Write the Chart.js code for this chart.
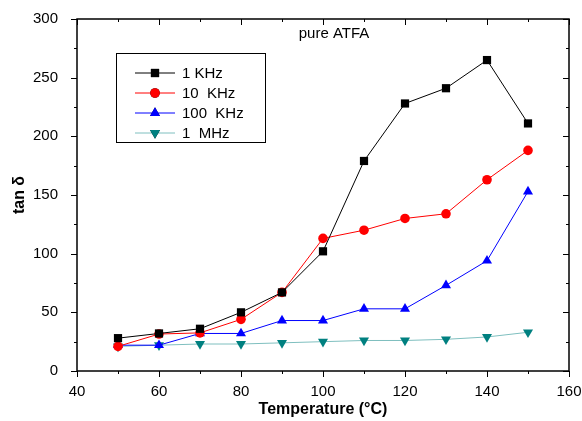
<!DOCTYPE html>
<html>
<head>
<meta charset="utf-8">
<script src="https://cdn.jsdelivr.net/npm/chart.js@4"></script>
<style>
  body { margin: 0; background: #fff; }
  #wrap { width: 582px; height: 421px; }
</style>
</head>
<body>
<div id="wrap"><canvas id="myChart"></canvas></div>
<script>
const temps = [50, 60, 70, 80, 90, 100, 110, 120, 130, 140, 150];
const khz1 = [28, 32, 36, 50, 67, 102, 179, 228, 241, 265, 211];
const khz10 = [21, 31.5, 32.5, 44, 67, 113, 120, 130, 134, 163, 188];
const khz100 = [22, 22, 32, 32, 43, 43, 53, 53, 73, 94, 153];
const mhz1 = [21, 22, 23, 23, 24, 25, 26, 26, 27, 29, 33];
const seriesNames = ['1 KHz', '10  KHz', '100  KHz', '1  MHz'];

const font = "'Liberation Sans', Arial, sans-serif";

function pts(vals) {
  return temps.map((t, i) => ({ x: t, y: vals[i] }));
}

// frame, minor ticks, legend box and inner label
const decor = {
  id: 'decor',
  afterDraw(chart) {
    const c = chart.ctx;
    const a = chart.chartArea;
    const xs = chart.scales.x, ys = chart.scales.y;
    c.save();
    c.strokeStyle = '#000';
    c.lineWidth = 1.5;
    c.strokeRect(a.left, a.top, a.right - a.left, a.bottom - a.top);
    c.lineWidth = 1;
    c.beginPath();
    for (let v = 40; v <= 160; v += 10) {
      const px = Math.round(xs.getPixelForValue(v)) + 0.5;
      const major = v % 20 === 0;
      c.moveTo(px, a.bottom); c.lineTo(px, a.bottom + (major ? 6 : 3));
      c.moveTo(px, a.top); c.lineTo(px, a.top + (major ? 6 : 3));
    }
    for (let v = 0; v <= 300; v += 25) {
      const py = Math.round(ys.getPixelForValue(v)) + 0.5;
      const major = v % 50 === 0;
      c.moveTo(a.left, py); c.lineTo(a.left - (major ? 6 : 3), py);
      c.moveTo(a.right, py); c.lineTo(a.right - (major ? 6 : 3), py);
    }
    c.stroke();

    // inner label
    c.fillStyle = '#000';
    c.font = '15px ' + font;
    c.textAlign = 'center';
    c.textBaseline = 'middle';
    c.fillText('pure ATFA', a.left + 257, a.top + 15);

    // legend
    const lx = a.left + 39, ly = a.top + 34;
    c.lineWidth = 1;
    c.strokeRect(lx + 0.5, ly + 0.5, 149, 89);
    c.textAlign = 'left';
    chart.data.datasets.forEach((ds, i) => {
      const y = ly + 20 + i * 20;
      c.strokeStyle = ds.borderColor;
      c.lineWidth = 1;
      c.beginPath();
      c.moveTo(lx + 19, y); c.lineTo(lx + 59, y);
      c.stroke();
      Chart.helpers.drawPoint(c, {
        pointStyle: ds.pointStyle, radius: ds.pointRadius,
        rotation: ds.pointRotation || 0, borderWidth: 0
      }, lx + 39, y);
      c.fillStyle = ds.pointBackgroundColor;
      c.fill();
      c.fillStyle = '#000';
      c.fillText(ds.label, lx + 66, y + 1);
    });
    c.restore();
  }
};

function makeSet(label, vals, line, mark, style, r, rot) {
  return {
    label: label,
    data: pts(vals),
    borderColor: line,
    borderWidth: 1,
    pointStyle: style,
    pointRadius: r,
    pointHoverRadius: r,
    pointRotation: rot,
    pointBackgroundColor: mark,
    pointBorderColor: mark,
    pointBorderWidth: 0,
    tension: 0
  };
}

new Chart(document.getElementById('myChart'), {
  type: 'line',
  data: {
    datasets: [
      makeSet(seriesNames[0], khz1, '#000000', '#000000', 'rect', 5.8, 0),
      makeSet(seriesNames[1], khz10, '#ff0000', '#ff0000', 'circle', 4.8, 0),
      makeSet(seriesNames[2], khz100, '#0000ff', '#0000ff', 'triangle', 5.8, 0),
      makeSet(seriesNames[3], mhz1, '#7fbfbf', '#008080', 'triangle', 5.8, 180)
    ]
  },
  options: {
    responsive: true,
    maintainAspectRatio: false,
    animation: false,
    layout: { padding: { top: 19, right: 13, left: 0, bottom: 0 } },
    plugins: {
      legend: { display: false },
      tooltip: { enabled: false }
    },
    scales: {
      x: {
        type: 'linear',
        min: 40, max: 160,
        afterFit(s) { s.height = 50; s.paddingRight = 0; s.paddingLeft = 0; },
        grid: { display: false },
        border: { display: false },
        ticks: {
          stepSize: 20, padding: 4, color: '#000',
          font: { family: font, size: 15 }
        },
        title: {
          display: true, text: 'Temperature (°C)', color: '#000',
          font: { family: font, size: 16, weight: 'bold' },
          padding: { top: 0, bottom: 2 }
        }
      },
      y: {
        min: 0, max: 300,
        afterFit(s) { s.width = 77; s.paddingTop = 0; s.paddingBottom = 0; },
        grid: { display: false },
        border: { display: false },
        ticks: {
          stepSize: 50, padding: 11, color: '#000',
          font: { family: font, size: 15 }
        },
        title: {
          display: true, text: 'tan δ', color: '#000',
          font: { family: font, size: 16, weight: 'bold' },
          padding: { top: 10, bottom: 0 }
        }
      }
    }
  },
  plugins: [decor]
});
</script>
</body>
</html>
